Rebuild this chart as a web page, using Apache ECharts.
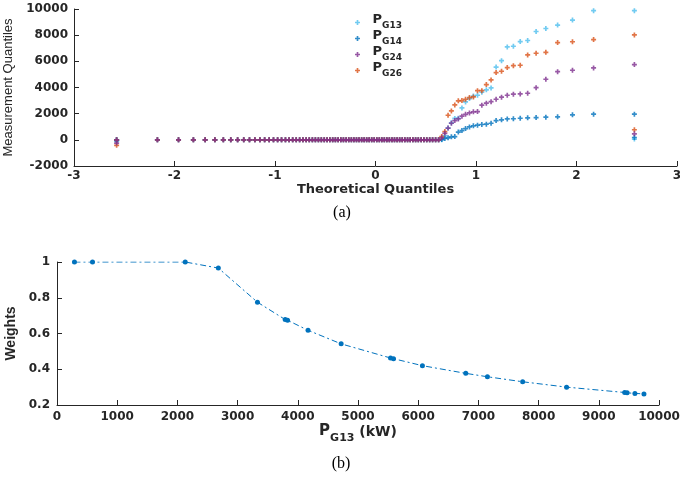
<!DOCTYPE html>
<html><head><meta charset="utf-8">
<script src="https://cdn.jsdelivr.net/npm/echarts@6/dist/echarts.min.js"></script>
<style>html,body{margin:0;padding:0;background:#fff}#c{width:680px;height:483px}</style>
</head><body><div id="c"></div>
<script>
// ---- (a) QQ plot data ----
const quantiles = [
-2.576,-2.170,-1.960,-1.812,-1.695,-1.598,-1.514,-1.440,-1.372,-1.311,
-1.254,-1.200,-1.150,-1.103,-1.058,-1.015,-0.974,-0.935,-0.896,-0.860,
-0.824,-0.789,-0.755,-0.722,-0.690,-0.659,-0.628,-0.598,-0.568,-0.539,
-0.510,-0.482,-0.454,-0.426,-0.399,-0.372,-0.345,-0.319,-0.292,-0.266,
-0.240,-0.215,-0.189,-0.164,-0.138,-0.113,-0.088,-0.063,-0.038,-0.013,
0.013,0.038,0.063,0.088,0.113,0.138,0.164,0.189,0.215,0.240,
0.266,0.292,0.319,0.345,0.372,0.399,0.426,0.454,0.482,0.510,
0.539,0.568,0.598,0.628,0.659,0.690,0.722,0.755,0.789,0.824,
0.860,0.896,0.935,0.974,1.015,1.058,1.103,1.150,1.200,1.254,
1.311,1.372,1.440,1.514,1.598,1.695,1.812,1.960,2.170,2.576];
const seriesNames = ['PG13','PG14','PG24','PG26'];
const valsPG13 = [0,
0,0,0,0,0,0,0,0,0,0, 0,0,0,0,0,0,0,0,0,0, 0,0,0,0,0,0,0,0,0,0, 0,0,0,0,0,0,0,0,0,0,
0,0,0,0,0,0,0,0,0,0, 0,0,0,0,0,0,0,0,0,0, 0,0,0,0,0,0,0,0,0,0, 0,0,0,
0,
300,900,1300,1640,1650,2440,2900,3150,3350,3410,3640,3820,3970,5560,6050,7100,7150,7510,7590,8280,8510,8770,9150,9870,9870];
const valsPG14 = [-80,
0,0,0,0,0,0,0,0,0,0, 0,0,0,0,0,0,0,0,0,0, 0,0,0,0,0,0,0,0,0,0, 0,0,0,0,0,0,0,0,0,0,
0,0,0,0,0,0,0,0,0,0, 0,0,0,0,0,0,0,0,0,0, 0,0,0,0,0,0,0,0,0,0, 0,0,0,
30,
100,150,230,250,590,710,860,990,1070,1120,1170,1200,1270,1470,1530,1600,1610,1650,1680,1700,1730,1760,1910,1960,1960];
const valsPG24 = [-250,
0,0,0,0,0,0,0,0,0,0, 0,0,0,0,0,0,0,0,0,0, 0,0,0,0,0,0,0,0,0,0, 0,0,0,0,0,0,0,0,0,0,
0,0,0,0,0,0,0,0,0,0, 0,0,0,0,0,0,0,0,0,0, 0,0,0,0,0,0,0,0,0,0, 0,0,0,
150,
500,900,1270,1470,1600,1810,1950,2060,2140,2160,2650,2800,2920,3100,3260,3410,3490,3510,3560,3990,4630,5210,5320,5500,5750];
const valsPG26 = [-420,
0,0,0,0,0,0,0,0,0,0, 0,0,0,0,0,0,0,0,0,0, 0,0,0,0,0,0,0,0,0,0, 0,0,0,0,0,0,0,0,0,0,
0,0,0,0,0,0,0,0,0,0, 0,0,0,0,0,0,0,0,0,0, 0,0,0,0,0,0,0,0,0,0, 0,0,0,
250,
630,1880,2210,2670,2980,3000,3100,3230,3280,3760,3760,4220,4580,5140,5240,5520,5670,5700,6490,6620,6690,7430,7500,7660,8020];
const extraX = [-2.576, 2.576];
const extraPG13 = [0, 60];
const extraPG14 = [0, 180];
const extraPG24 = [0, 460];
const extraPG26 = [0, 770];

// ---- (b) weights data ----
const pg13kW = [290,590,2130,2680,3330,3790,3830,4170,4720,5540,5590,6070,6790,7150,7735,8465,9430,9470,9600,9750];
const weights = [1.0,1.0,1.0,0.966,0.775,0.678,0.674,0.618,0.542,0.463,0.459,0.420,0.377,0.358,0.330,0.300,0.270,0.268,0.265,0.262];

const colors = {PG13:'#4DBEEE', PG14:'#0072BD', PG24:'#7E2F8E', PG26:'#D95319'};
const vals = {PG13:valsPG13, PG14:valsPG14, PG24:valsPG24, PG26:valsPG26};
const extras = {PG13:extraPG13, PG14:extraPG14, PG24:extraPG24, PG26:extraPG26};

const ink = '#262626';
const tickFont = {fontFamily:'DejaVu Sans', fontWeight:'bold', fontSize:12, color:ink};
const plus = 'path://M2,0H4V2H6V4H4V6H2V4H0V2H2Z';
const plain = v => String(Math.round(v));

function axisBase(extra){
  return Object.assign({
    type:'value',
    axisLine:{show:true, onZero:false, lineStyle:{color:ink, width:1}},
    axisTick:{show:true, inside:true, length:5, lineStyle:{color:ink}},
    splitLine:{show:false},
  }, extra);
}

const drawOrder = ['PG13','PG14','PG26','PG24'];
const scatterSeries = drawOrder.map(n => ({
  name:n, type:'scatter', xAxisIndex:0, yAxisIndex:0,
  symbol:plus, symbolSize:5,
  itemStyle:{color:colors[n]},
  data: quantiles.map((q,i)=>[q, vals[n][i]]).concat(extraX.map((x,i)=>[x, extras[n][i]]))
}));

const chart = echarts.init(document.getElementById('c'), null, {renderer:'canvas'});
chart.setOption({
  animation:false,
  backgroundColor:'#fff',
  grid:[
    {left:74, top:9, width:603, height:157, containLabel:false, outerBoundsMode:'none'},
    {left:57, top:262, width:602, height:143, containLabel:false, outerBoundsMode:'none'}
  ],
  xAxis:[
    axisBase({gridIndex:0, min:-3, max:3, interval:1,
      axisLabel:Object.assign({margin:4, formatter:plain}, tickFont),
      name:'Theoretical Quantiles', nameLocation:'middle', nameGap:16,
      nameTextStyle:{fontFamily:'DejaVu Sans', fontWeight:'bold', fontSize:13, color:ink}}),
    axisBase({gridIndex:1, min:0, max:10000, interval:1000,
      axisLabel:Object.assign({margin:6, formatter:plain}, tickFont),
      name:'{p|P}{s|G13}{u| (kW)}', nameLocation:'middle', nameGap:16,
      nameTextStyle:{color:ink, rich:{
        p:{fontFamily:'DejaVu Sans', fontWeight:'bold', fontSize:15, lineHeight:15, padding:[0,0,7,0], color:ink},
        s:{fontFamily:'DejaVu Sans', fontWeight:'bold', fontSize:11, lineHeight:11, padding:[7,0,0,0], color:ink},
        u:{fontFamily:'DejaVu Sans', fontWeight:'bold', fontSize:14, lineHeight:14, padding:[0,0,6,0], color:ink}
      }}})
  ],
  yAxis:[
    axisBase({gridIndex:0, min:-2000, max:10000, interval:2000,
      axisLabel:Object.assign({margin:6, formatter:plain}, tickFont),
      name:'Measurement Quantiles', nameLocation:'middle', nameGap:52,
      nameTextStyle:{fontFamily:'"Liberation Sans"', fontSize:13, color:ink}}),
    axisBase({gridIndex:1, min:0.2, max:1, interval:0.2,
      axisLabel:Object.assign({margin:7, formatter:v=>Math.abs(v-1)<1e-9?'1':v.toFixed(1)}, tickFont),
      name:'Weights', nameLocation:'middle', nameGap:34,
      nameTextStyle:{fontFamily:'"Liberation Sans"', fontWeight:'bold', fontSize:14, color:ink}})
  ],
  legend:{
    data:seriesNames, orient:'vertical', left:355, top:13, padding:0,
    itemWidth:20, itemHeight:5, itemGap:-3,
    formatter:n=>'{p|P}{s|'+n.slice(1)+'}',
    textStyle:{color:ink, rich:{
      p:{fontFamily:'DejaVu Sans', fontWeight:'bold', fontSize:13, lineHeight:13, padding:[0,0,6,0], color:ink},
      s:{fontFamily:'DejaVu Sans', fontWeight:'bold', fontSize:9, lineHeight:9, padding:[6,0,0,0], color:ink}
    }}
  },
  series: scatterSeries.concat([{
    name:'weights', type:'line', xAxisIndex:1, yAxisIndex:1,
    symbol:'circle', symbolSize:5, showSymbol:true,
    itemStyle:{color:'#0072BD'},
    lineStyle:{color:'#0072BD', width:1, type:[6,3,2,3]},
    data: pg13kW.map((x,i)=>[x, weights[i]])
  }]),
  graphic:[
    {type:'text', x:342, y:213, style:{text:'(a)', font:'16px "Liberation Serif"', fill:'#000', align:'center', verticalAlign:'middle'}},
    {type:'text', x:341, y:464, style:{text:'(b)', font:'16px "Liberation Serif"', fill:'#000', align:'center', verticalAlign:'middle'}}
  ]
});
</script>
</body></html>
